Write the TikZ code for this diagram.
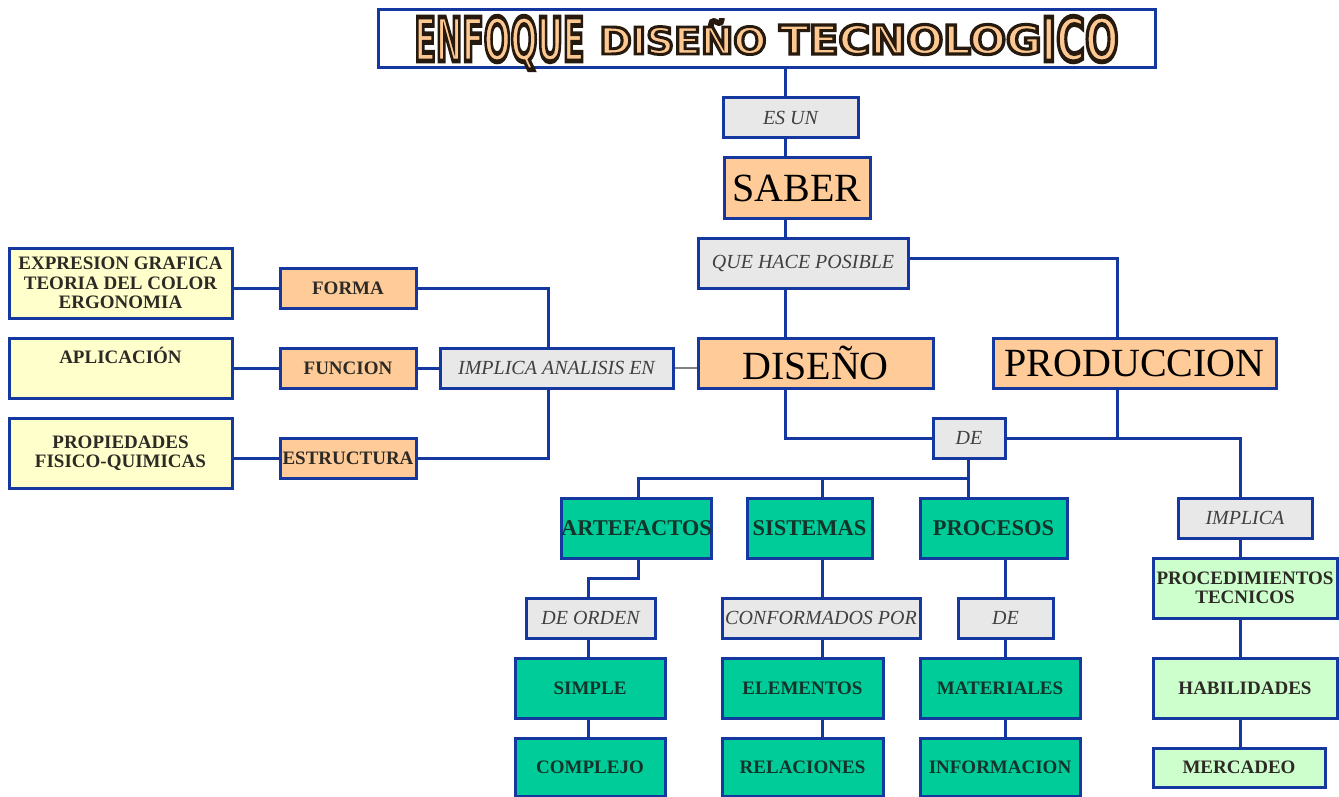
\documentclass[tikz,border=0pt]{standalone}
\usepackage{fontspec}
\setmainfont{Liberation Serif}
\newfontfamily\titlefont{DejaVu Sans}
\usepackage{graphicx}
\usetikzlibrary{backgrounds}
\definecolor{bblue}{RGB}{20,55,160}
\definecolor{borange}{RGB}{255,204,153}
\definecolor{bgray}{RGB}{232,232,232}
\definecolor{bteal}{RGB}{0,204,153}
\definecolor{byellow}{RGB}{255,255,204}
\definecolor{bgreen}{RGB}{204,255,204}
\definecolor{labeltext}{RGB}{64,64,64}
\definecolor{boldtext}{RGB}{45,42,38}
\definecolor{tealtext}{RGB}{18,52,42}
\definecolor{titleorange}{RGB}{253,200,145}
\newcommand\tword[3]{\resizebox{#1}{#2}{%
  \special{pdf:literal direct 2 Tr 0.15 0.1 0.05 RG 0.8 w}%
  \smash{#3}\rule{0pt}{7.29pt}%
  \special{pdf:literal direct 0 Tr}}}
\tikzset{
  box/.style={draw=bblue, line width=3pt, inner sep=0pt, align=center, text=boldtext,
    font=\fontsize{19}{19.5}\selectfont\bfseries},
  obox/.style={box, fill=borange},
  bigbox/.style={obox, text=black, font=\fontsize{40}{44}\selectfont},
  gbox/.style={box, fill=bgray, text=labeltext, font=\fontsize{20}{22}\selectfont\itshape},
  tbox/.style={box, fill=bteal, text=tealtext},
  thead/.style={tbox, font=\fontsize{22.5}{26}\selectfont\bfseries},
  ybox/.style={box, fill=byellow},
  lbox/.style={box, fill=bgreen},
  conn/.style={draw=bblue, line width=3pt},
  sz/.style 2 args={minimum width=#1pt, minimum height=#2pt}
}
\begin{document}
\begin{tikzpicture}[x=1pt,y=-1pt]
\useasboundingbox (0,0) rectangle (1339,797);
% title
\node[box, fill=white, sz={777}{58}] (title) at (766.5,39) {%
  \fontsize{10}{12}\selectfont\titlefont\bfseries\color{titleorange}%
  \tword{170pt}{44pt}{ENFOQUE}\hspace{15pt}%
  \raisebox{7pt}{\tword{167pt}{27pt}{DISEÑO}}\hspace{13pt}%
  \raisebox{7pt}{\tword{262pt}{29pt}{TECNOLOG}}%
  \tword{77pt}{44pt}{ICO}};
\node[gbox, sz={135}{40}] (esun) at (790.5,118) {ES UN};
\node[bigbox, sz={146}{60}] (saber) at (797,188) {SABER};
\node[gbox, sz={210}{50}] (qhp) at (803,263) {QUE HACE POSIBLE};
\node[bigbox, sz={235}{50}] (diseno) at (815.5,363) {DISEÑO};
\node[bigbox, sz={283}{50}] (prod) at (1134.5,363) {PRODUCCION};
\node[gbox, sz={72}{40}] (de1) at (969,438) {DE};
% left branch
\node[gbox, sz={233}{40}] (ian) at (556.5,368) {IMPLICA ANALISIS EN};
\node[obox, sz={136}{40}] (forma) at (348,288) {FORMA};
\node[obox, sz={136}{40}] (funcion) at (348,368) {FUNCION};
\node[obox, sz={136}{40}] (estructura) at (348,458) {ESTRUCTURA};
\node[ybox, sz={223}{70}] (expr) at (120.5,283) {EXPRESION GRAFICA\\TEORIA DEL COLOR\\ERGONOMIA};
\node[ybox, sz={223}{60}] (aplic) at (120.5,368) {APLICACIÓN\\\strut};
\node[ybox, sz={223}{70}] (prop) at (120.5,453) {PROPIEDADES\\FISICO-QUIMICAS};
% lower tree
\node[thead, sz={149}{60}] (artef) at (636.5,528) {ARTEFACTOS};
\node[thead, sz={125}{60}] (sist) at (809.5,528) {SISTEMAS};
\node[thead, sz={147}{60}] (proc) at (993.5,528) {PROCESOS};
\node[gbox, sz={129}{40}] (deorden) at (590.5,618) {DE ORDEN};
\node[tbox, sz={150}{60}] (simple) at (590,688) {SIMPLE};
\node[tbox, sz={150}{58}] (complejo) at (590,767) {COMPLEJO};
\node[gbox, sz={198}{40}] (conf) at (821,618) {CONFORMADOS POR};
\node[tbox, sz={161}{60}] (elem) at (802.5,688) {ELEMENTOS};
\node[tbox, sz={161}{58}] (rel) at (802.5,767) {RELACIONES};
\node[gbox, sz={95}{40}] (de2) at (1005.5,618) {DE};
\node[tbox, sz={160}{60}] (mat) at (1000,688) {MATERIALES};
\node[tbox, sz={160}{58}] (info) at (1000,767) {INFORMACION};
\node[gbox, sz={134}{40}] (implica) at (1245,518) {IMPLICA};
\node[lbox, sz={184}{60}] (proctec) at (1245,588) {PROCEDIMIENTOS\\TECNICOS};
\node[lbox, sz={184}{60}] (habil) at (1245,688) {HABILIDADES};
\node[lbox, sz={172}{39}] (merc) at (1239,767.5) {MERCADEO};
% guide coordinates
\coordinate (sp) at (785,0);
\coordinate (pv) at (1117,258);
\coordinate (iv) at (1240,0);
\coordinate (av) at (638,478);
\coordinate (sv) at (822,478);
\coordinate (cv) at (968,478);
\coordinate (dv) at (588,578);
\coordinate (pc) at (1005,0);
\coordinate (fv) at (548,0);
\begin{scope}[on background layer]
\fill[white] (0,0) rectangle (1339,797);
\draw[conn] (title.south -| sp) -- (diseno.north -| sp);
\draw[conn] (qhp.east |- pv) -| (prod.north -| pv);
\draw[conn] (diseno.south -| sp) |- (de1.west);
\draw[conn] (de1.east) -| (implica.north -| iv);
\draw[conn] (prod.south -| pv) -- (pv |- de1.east);
\draw[conn] (de1.south -| cv) -- (cv) -- (av) -- (av |- artef.north);
\draw[conn] (sv) -- (sv |- sist.north);
\draw[conn] (cv) -- (cv |- proc.north);
\draw[conn] (artef.south -| av) |- (dv) -- (dv |- complejo.north);
\draw[conn] (sist.south -| sv) -- (sv |- rel.north);
\draw[conn] (proc.south -| pc) -- (pc |- info.north);
\draw[conn] (implica.south -| iv) -- (iv |- merc.north);
\draw[gray, line width=2pt] (ian.east) -- (ian.east -| diseno.west);
\draw[conn] (ian.north -| fv) |- (forma.east);
\draw[conn] (ian.south -| fv) |- (estructura.east);
\draw[conn] (ian.west) -- (funcion.east);
\draw[conn] (forma.west) -- (forma.west -| expr.east);
\draw[conn] (funcion.west) -- (funcion.west -| aplic.east);
\draw[conn] (estructura.west) -- (estructura.west -| prop.east);
\end{scope}
\end{tikzpicture}
\end{document}
